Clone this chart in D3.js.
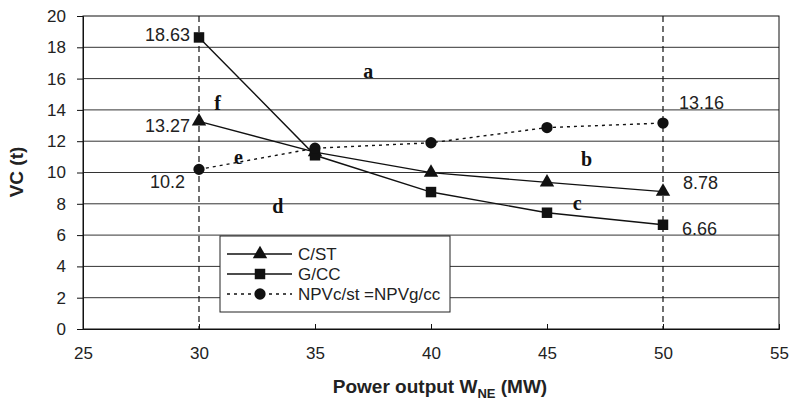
<!DOCTYPE html>
<meta charset="utf-8">
<html>
<head>
<style>
body { margin: 0; background: #fff; }
svg text { font-family: "Liberation Sans", Arial, sans-serif; }
svg text.letter { font-family: "Liberation Serif", "Times New Roman", serif; }
</style>
</head>
<body>
<svg width="792" height="400"></svg>
</body>
</html>

<script src="https://d3js.org/d3.v7.min.js"></script>
<script>

var power = [30, 35, 40, 45, 50];
var cst = [13.27, 11.3, 9.99, 9.37, 8.78];
var gcc = [18.63, 11.1, 8.75, 7.43, 6.66];
var npv = [10.2, 11.55, 11.9, 12.87, 13.16];
var xTicks = [25, 30, 35, 40, 45, 50, 55];
var yTicks = [0, 2, 4, 6, 8, 10, 12, 14, 16, 18, 20];
var regions = [
  {t: "a", x: 37.3, y: 16.4}, {t: "b", x: 46.7, y: 10.8}, {t: "c", x: 46.3, y: 8.0},
  {t: "d", x: 33.4, y: 7.8}, {t: "e", x: 31.7, y: 10.9}, {t: "f", x: 30.8, y: 14.4}
];

var svg = d3.select("svg");
var x = d3.scaleLinear().domain([25, 55]).range([83, 779]);
var y = d3.scaleLinear().domain([0, 20]).range([329, 16]);

// grid
svg.append("g").selectAll("line").data(yTicks.slice(1, -1)).enter().append("line")
  .attr("x1", x(25)).attr("x2", x(55))
  .attr("y1", function(d) { return y(d); }).attr("y2", function(d) { return y(d); })
  .attr("stroke", "#333").attr("stroke-width", 1);

// frame
svg.append("rect").attr("x", x(25)).attr("y", y(20))
  .attr("width", x(55) - x(25)).attr("height", y(0) - y(20))
  .attr("fill", "none").attr("stroke", "#111").attr("stroke-width", 1);

// dashed verticals
svg.append("g").selectAll("line").data([30, 50]).enter().append("line")
  .attr("x1", function(d) { return x(d); }).attr("x2", function(d) { return x(d); })
  .attr("y1", y(20)).attr("y2", y(0))
  .attr("stroke", "#111").attr("stroke-width", 1.2).attr("stroke-dasharray", "6,4");

var xAxis = svg.append("g").attr("transform", "translate(0," + y(0) + ")")
  .call(d3.axisBottom(x).tickValues(xTicks).tickSize(-5).tickPadding(18).tickFormat(d3.format("d")));
var yAxis = svg.append("g").attr("transform", "translate(" + x(25) + ",0)")
  .call(d3.axisLeft(y).tickValues(yTicks).tickSize(6).tickPadding(11).tickFormat(d3.format("d")));
[xAxis, yAxis].forEach(function(a) {
  a.selectAll("text").attr("font-size", 17).attr("fill", "#222")
    .attr("font-family", null);
  a.selectAll("line, path").attr("stroke", "#111");
});

var line = d3.line().x(function(d) { return x(d[0]); }).y(function(d) { return y(d[1]); });
var series = [
  {vals: cst, dash: null, sym: d3.symbolTriangle, size: 90},
  {vals: gcc, dash: null, sym: d3.symbolSquare, size: 110},
  {vals: npv, dash: "3,4", sym: d3.symbolCircle, size: 100}
];
series.forEach(function(s) {
  var pts = power.map(function(p, i) { return [p, s.vals[i]]; });
  svg.append("path").datum(pts).attr("d", line)
    .attr("fill", "none").attr("stroke", "#111").attr("stroke-width", 1.4)
    .attr("stroke-dasharray", s.dash);
  svg.append("g").selectAll("path").data(pts).enter().append("path")
    .attr("d", d3.symbol().type(s.sym).size(s.size))
    .attr("transform", function(d) { return "translate(" + x(d[0]) + "," + y(d[1]) + ")"; })
    .attr("fill", "#111");
});

// value labels
var vlab = [
  {t: "18.63", v: gcc[0], p: 30, dx: -9, dy: 4, a: "end"},
  {t: "13.27", v: cst[0], p: 30, dx: -9, dy: 11, a: "end"},
  {t: "10.2", v: npv[0], p: 30, dx: -14, dy: 19, a: "end"},
  {t: "13.16", v: npv[4], p: 50, dx: 16, dy: -14, a: "start"},
  {t: "8.78", v: cst[4], p: 50, dx: 20, dy: -3, a: "start"},
  {t: "6.66", v: gcc[4], p: 50, dx: 19, dy: 10, a: "start"}
];
svg.append("g").selectAll("text").data(vlab).enter().append("text")
  .attr("x", function(d) { return x(d.p) + d.dx; })
  .attr("y", function(d) { return y(d.v) + d.dy; })
  .attr("text-anchor", function(d) { return d.a; })
  .attr("font-size", 18).attr("fill", "#222")
  .text(function(d) { return d.t; });

// region letters
svg.append("g").selectAll("text").data(regions).enter().append("text")
  .attr("class", "letter")
  .attr("x", function(d) { return x(d.x); }).attr("y", function(d) { return y(d.y) + 6; })
  .attr("text-anchor", "middle")
  .attr("font-weight", "bold").attr("font-size", 20).attr("fill", "#111")
  .text(function(d) { return d.t; });

// legend
var leg = svg.append("g");
leg.append("rect").attr("x", 220).attr("y", 236).attr("width", 230).attr("height", 76)
  .attr("fill", "#fff").attr("stroke", "#222").attr("stroke-width", 1);
var legItems = [
  {name: "C/ST", s: series[0]}, {name: "G/CC", s: series[1]}, {name: "NPVc/st =NPVg/cc", s: series[2]}
];
legItems.forEach(function(it, i) {
  var ly = 254 + i * 20;
  leg.append("line").attr("x1", 227).attr("x2", 292).attr("y1", ly).attr("y2", ly)
    .attr("stroke", "#111").attr("stroke-width", 1.4).attr("stroke-dasharray", it.s.dash);
  leg.append("path").attr("d", d3.symbol().type(it.s.sym).size(it.s.size))
    .attr("transform", "translate(260," + ly + ")").attr("fill", "#111");
  leg.append("text").attr("x", 298).attr("y", ly + 6).attr("font-size", 17).attr("fill", "#222")
    .text(it.name);
});

// axis titles
var xt = svg.append("text").attr("x", 440).attr("y", 393).attr("text-anchor", "middle")
  .attr("font-weight", "bold").attr("font-size", 19).attr("fill", "#222");
xt.append("tspan").text("Power output W");
xt.append("tspan").attr("font-size", 13).attr("dy", 5).text("NE");
xt.append("tspan").attr("dy", -5).text(" (MW)");

svg.append("text").attr("transform", "translate(23,172) rotate(-90)")
  .attr("text-anchor", "middle").attr("font-weight", "bold").attr("font-size", 19).attr("fill", "#222")
  .text("VC (t)");

</script>
